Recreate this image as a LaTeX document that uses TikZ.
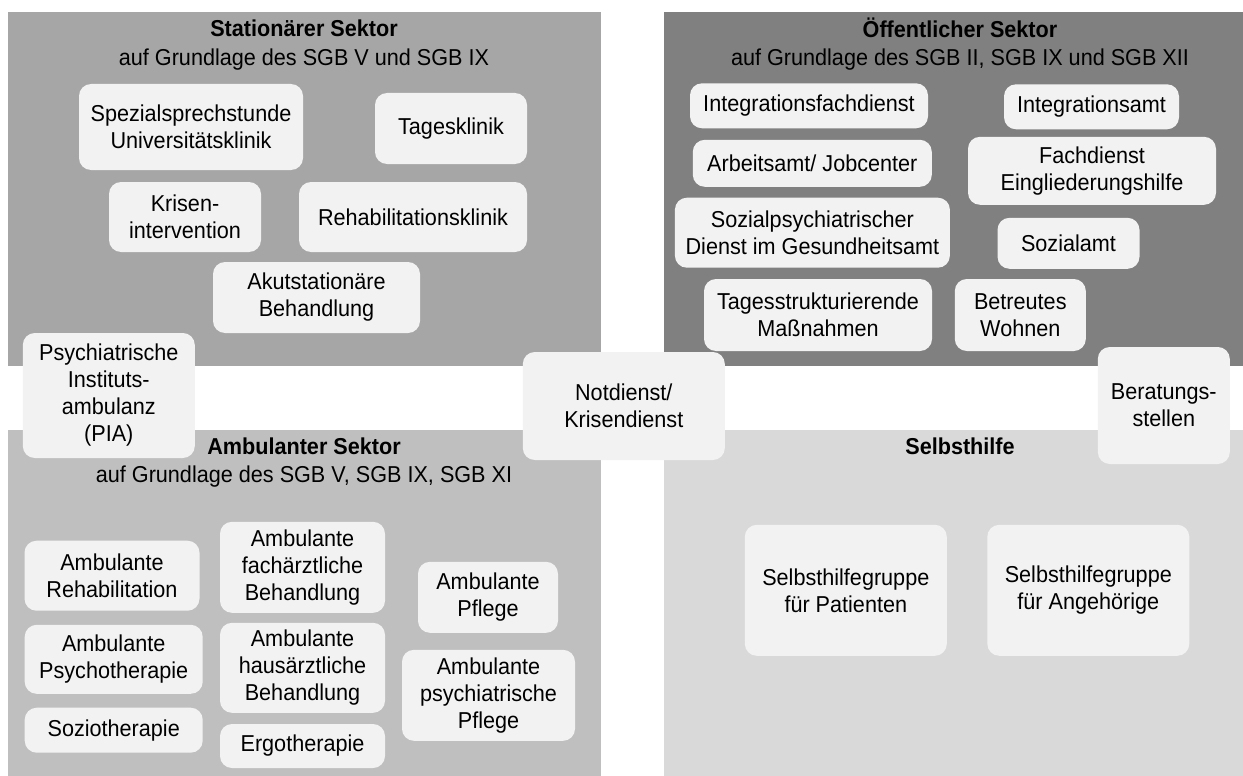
\documentclass[tikz,border=0pt]{standalone}
\usepackage{fontspec}
\setmainfont[FakeStretch=0.94]{Liberation Sans}
\definecolor{statgrau}{HTML}{A6A6A6}
\definecolor{oeffgrau}{HTML}{808080}
\definecolor{ambgrau}{HTML}{BFBFBF}
\definecolor{shgrau}{HTML}{D9D9D9}
\definecolor{feldgrau}{HTML}{F2F2F2}
\begin{document}
\begin{tikzpicture}[x=1pt,y=-1pt,
  feld/.style 2 args={fill=feldgrau,rounded corners=12pt,align=center,inner sep=0pt,
    minimum width=#1pt,minimum height=#2pt,font=\fontsize{23}{27}\selectfont},
  titel/.style={font=\fontsize{23}{27}\selectfont\bfseries},
  unter/.style={font=\fontsize{23}{27}\selectfont}]
\useasboundingbox (0,0) rectangle (1243,776);

\fill[statgrau] (8,12) rectangle (601,366);
\node[titel] (stationaer) at (304,28) {Stationärer Sektor};
\node[unter] (stationaerSGB) at (304,60) {auf Grundlage des SGB V und SGB IX};

\fill[oeffgrau] (664,12) rectangle (1243,366);
\node[titel] (oeffentlich) at (960,28) {Öffentlicher Sektor};
\node[unter] (oeffentlichSGB) at (960,60) {auf Grundlage des SGB II, SGB IX und SGB XII};

\fill[ambgrau] (8,430) rectangle (601,776);
\node[titel] (ambulant) at (304,446) {Ambulanter Sektor};
\node[unter] (ambulantSGB) at (304,477) {auf Grundlage des SGB V, SGB IX, SGB XI};

\fill[shgrau] (664,430) rectangle (1243,776);
\node[titel] (selbsthilfe) at (960,446) {Selbsthilfe};

\node[feld={224}{86}] (spez) at (191,127) {Spezialsprechstunde\\Universitätsklinik};
\node[feld={152}{71}] (tagesklinik) at (451,128.5) {Tagesklinik};
\node[feld={152}{70}] (krise) at (185,217) {Krisen-\\intervention};
\node[feld={228}{70}] (rehaklinik) at (413,217) {Rehabilitationsklinik};
\node[feld={207}{71}] (akut) at (316.5,297.5) {Akutstationäre\\Behandlung};

\node[feld={238}{45}] (ifd) at (809,105.8) {Integrationsfachdienst};
\node[feld={175}{45}] (iamt) at (1091.5,106.8) {Integrationsamt};
\node[feld={239}{47}] (jobcenter) at (812.3,163.3) {Arbeitsamt/ Jobcenter};
\node[feld={248}{68}] (eingliederung) at (1092,170.8) {Fachdienst\\Eingliederungshilfe};
\node[feld={275}{70}] (spdi) at (812.4,232.7) {Sozialpsychiatrischer\\Dienst im Gesundheitsamt};
\node[feld={142}{51}] (sozialamt) at (1068.5,243.3) {Sozialamt};
\node[feld={228}{72}] (tagesstruktur) at (818,315) {Tagesstrukturierende\\Maßnahmen};
\node[feld={131}{72}] (wohnen) at (1020.3,315) {Betreutes\\Wohnen};

\node[feld={172}{125}] (pia) at (108.8,395.5) {Psychiatrische\\Instituts-\\ambulanz\\(PIA)};
\node[feld={202}{108}] (notdienst) at (623.8,406) {Notdienst/\\Krisendienst};
\node[feld={132}{117}] (beratung) at (1163.8,405.5) {Beratungs-\\stellen};

\node[feld={175}{70}] (ambreha) at (112,575.7) {Ambulante\\Rehabilitation};
\node[feld={178}{69}] (ambpsycho) at (113.7,659.3) {Ambulante\\Psychotherapie};
\node[feld={178}{45}] (sozio) at (113.7,730.2) {Soziotherapie};
\node[feld={165}{91}] (fach) at (302.5,567.3) {Ambulante\\fachärztliche\\Behandlung};
\node[feld={165}{90}] (haus) at (302.5,667.8) {Ambulante\\hausärztliche\\Behandlung};
\node[feld={165}{44}] (ergo) at (302.5,746) {Ergotherapie};
\node[feld={140}{71}] (pflege) at (488,597.3) {Ambulante\\Pflege};
\node[feld={173}{91}] (psypflege) at (488.5,695.3) {Ambulante\\psychiatrische\\Pflege};

\node[feld={202}{131}] (shgpat) at (845.8,590.3) {Selbsthilfegruppe\\für Patienten};
\node[feld={202}{131}] (shgang) at (1088.3,590.3) {Selbsthilfegruppe\\für Angehörige};
\end{tikzpicture}
\end{document}
